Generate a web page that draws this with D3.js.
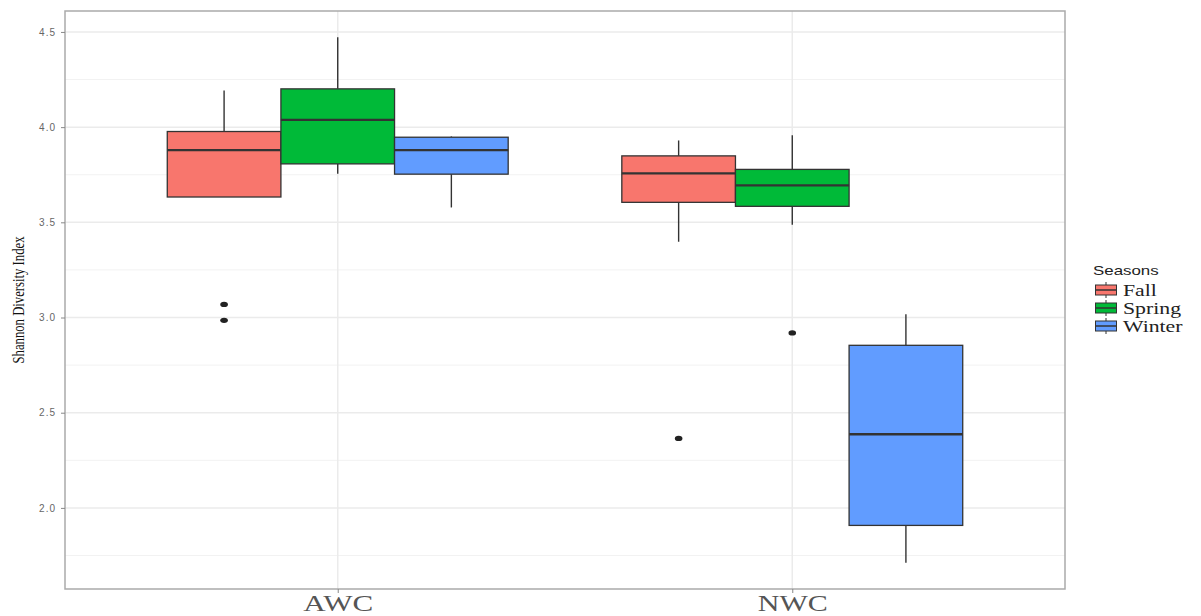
<!DOCTYPE html>
<html>
<head>
<meta charset="utf-8">
<script src="https://cdn.jsdelivr.net/npm/d3@7"></script>
<style>
  html, body { margin: 0; padding: 0; background: #fff; }
  svg { display: block; }
</style>
</head>
<body>
<svg id="chart" width="1201" height="616"></svg>
<script>
// Sites on the x axis and the seasons dodged within each site
const sites = ["AWC", "NWC"];
const seasons = ["Fall", "Spring", "Winter"];
const seasonColors = ["#F8766D", "#00BA38", "#619CFF"];

// Five-number summaries of the Shannon index, per site, in season order
const whiskerLow  = [[3.633, 3.755, 3.578], [3.398, 3.487, 1.712]];
const q1Values    = [[3.633, 3.807, 3.753], [3.605, 3.584, 1.908]];
const medians     = [[3.879, 4.038, 3.879], [3.757, 3.694, 2.387]];
const q3Values    = [[3.977, 4.201, 3.947], [3.849, 3.778, 2.854]];
const whiskerHigh = [[4.192, 4.472, 3.951], [3.930, 3.958, 3.017]];

// Outlying samples: [site, season, value]
const outliers = [
  ["AWC", "Fall", 3.069],
  ["AWC", "Fall", 2.985],
  ["NWC", "Fall", 2.365],
  ["NWC", "Spring", 2.919]
];

const yMajorTicks = [2.0, 2.5, 3.0, 3.5, 4.0, 4.5];
const yMinorTicks = [1.75, 2.25, 2.75, 3.25, 3.75, 4.25];

const svg = d3.select("#chart");
const panel = { left: 65, right: 1065, top: 11, bottom: 589 };

// y domain: data range expanded by 5% on each side
const allVals = [].concat(...whiskerLow, ...whiskerHigh, outliers.map(d => d[2]));
const lo = d3.min(allVals), hi = d3.max(allVals), pad = (hi - lo) * 0.05;
const y = d3.scaleLinear().domain([lo - pad, hi + pad]).range([panel.bottom, panel.top]);

const x = d3.scalePoint().domain(sites).range([panel.left, panel.right]).padding(0.6);
const dodge = d3.scaleBand().domain(seasons)
  .range([-x.step() * 0.375, x.step() * 0.375]).padding(0);
const color = d3.scaleOrdinal().domain(seasons).range(seasonColors);

// Panel background grid
const grid = svg.append("g");
grid.selectAll("line.minor").data(yMinorTicks).join("line")
  .attr("x1", panel.left).attr("x2", panel.right)
  .attr("y1", d => y(d)).attr("y2", d => y(d))
  .attr("stroke", "#f2f2f2").attr("stroke-width", 1);
grid.selectAll("line.major").data(yMajorTicks).join("line")
  .attr("x1", panel.left).attr("x2", panel.right)
  .attr("y1", d => y(d)).attr("y2", d => y(d))
  .attr("stroke", "#ebebeb").attr("stroke-width", 1.5);
grid.selectAll("line.vert").data(sites).join("line")
  .attr("x1", d => x(d)).attr("x2", d => x(d))
  .attr("y1", panel.top).attr("y2", panel.bottom)
  .attr("stroke", "#ebebeb").attr("stroke-width", 1.5);

// Boxplots
const boxes = [];
sites.forEach((s, i) => seasons.forEach((se, j) => boxes.push({
  site: s, season: se,
  lo: whiskerLow[i][j], q1: q1Values[i][j], med: medians[i][j],
  q3: q3Values[i][j], hi: whiskerHigh[i][j]
})));

const bw = dodge.bandwidth();
const g = svg.append("g");
const bx = g.selectAll("g.box").data(boxes).join("g")
  .attr("transform", d => `translate(${x(d.site) + dodge(d.season)},0)`);

bx.append("line")
  .attr("x1", bw / 2).attr("x2", bw / 2)
  .attr("y1", d => y(d.q3)).attr("y2", d => y(d.hi))
  .attr("stroke", "#333").attr("stroke-width", 1.4);
bx.append("line")
  .attr("x1", bw / 2).attr("x2", bw / 2)
  .attr("y1", d => y(d.q1)).attr("y2", d => y(d.lo))
  .attr("stroke", "#333").attr("stroke-width", 1.4);
bx.append("rect")
  .attr("x", 0).attr("width", bw)
  .attr("y", d => y(d.q3)).attr("height", d => y(d.q1) - y(d.q3))
  .attr("fill", d => color(d.season))
  .attr("stroke", "#333").attr("stroke-width", 1.3);
bx.append("line")
  .attr("x1", 0).attr("x2", bw)
  .attr("y1", d => y(d.med)).attr("y2", d => y(d.med))
  .attr("stroke", "#333").attr("stroke-width", 2.4);

g.selectAll("ellipse.out").data(outliers).join("ellipse")
  .attr("cx", d => x(d[0]) + dodge(d[1]) + bw / 2)
  .attr("cy", d => y(d[2]))
  .attr("rx", 3.8).attr("ry", 2.6)
  .attr("fill", "#222");

// Panel border
svg.append("rect")
  .attr("x", panel.left).attr("y", panel.top)
  .attr("width", panel.right - panel.left).attr("height", panel.bottom - panel.top)
  .attr("fill", "none").attr("stroke", "#aaa").attr("stroke-width", 1.5);

// Y axis
const yAxis = svg.append("g")
  .attr("transform", `translate(${panel.left},0)`)
  .call(d3.axisLeft(y).tickValues(yMajorTicks).tickFormat(d3.format(".1f"))
    .tickSize(4).tickPadding(5));
yAxis.select(".domain").remove();
yAxis.selectAll(".tick line").attr("stroke", "#888");
yAxis.selectAll(".tick text")
  .attr("fill", "#666").attr("font-family", "Liberation Sans, Arial, sans-serif")
  .attr("font-size", 10).attr("letter-spacing", 1);

// X axis
const xAxis = svg.append("g")
  .attr("transform", `translate(0,${panel.bottom})`)
  .call(d3.axisBottom(x).tickSize(4).tickPadding(4));
xAxis.select(".domain").remove();
xAxis.selectAll(".tick line").attr("stroke", "#888");
xAxis.selectAll(".tick text")
  .attr("fill", "#555").attr("font-family", "Liberation Serif, Times New Roman, serif")
  .attr("font-size", 23).attr("textLength", 70).attr("lengthAdjust", "spacingAndGlyphs")
  .attr("dy", "0.62em");

// Y axis title (condensed serif)
svg.append("text")
  .attr("transform", "translate(24,300) rotate(-90)")
  .attr("text-anchor", "middle")
  .attr("font-family", "Liberation Serif, Times New Roman, serif")
  .attr("font-size", 17).attr("fill", "#111")
  .attr("textLength", 127).attr("lengthAdjust", "spacingAndGlyphs")
  .text("Shannon Diversity Index");

// Legend
const legend = svg.append("g").attr("transform", "translate(1093,0)");
legend.append("text")
  .attr("transform", "translate(0,275) scale(1.3,1)")
  .attr("font-family", "Liberation Sans, Arial, sans-serif")
  .attr("font-size", 13).attr("fill", "#222")
  .text("Seasons");
const keys = legend.selectAll("g.key").data(seasons).join("g")
  .attr("transform", (d, i) => `translate(2,${283 + i * 18})`);
keys.append("line").attr("x1", 11).attr("x2", 11).attr("y1", -1).attr("y2", 15)
  .attr("stroke", "#333").attr("stroke-width", 1);
keys.append("rect").attr("x", 0.5).attr("y", 2).attr("width", 21).attr("height", 10)
  .attr("fill", d => color(d)).attr("stroke", "#333").attr("stroke-width", 1);
keys.append("line").attr("x1", 0.5).attr("x2", 21.5).attr("y1", 7).attr("y2", 7)
  .attr("stroke", "#333").attr("stroke-width", 1.5);
keys.append("text")
  .attr("transform", "translate(28,12.5) scale(1.28,1)")
  .attr("font-family", "Liberation Serif, Times New Roman, serif")
  .attr("font-size", 17).attr("fill", "#222")
  .text(d => d);
</script>
</body>
</html>
